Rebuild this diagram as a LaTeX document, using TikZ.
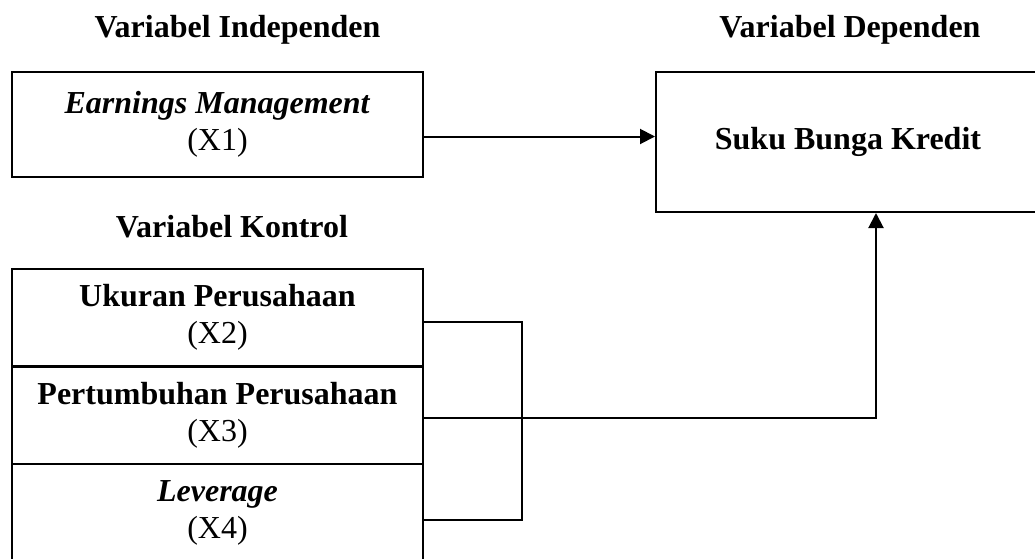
\documentclass[tikz,border=0pt]{standalone}
\usepackage{fontspec}
\setmainfont{Liberation Serif}
\usetikzlibrary{arrows.meta}

\begin{document}
\begin{tikzpicture}[x=0.5pt,y=-0.5pt,line width=1pt,
  every node/.append style={font=\fontsize{16}{18.5}\selectfont},
  box/.style={draw,align=center,inner sep=0pt,minimum width=205.5pt,minimum height=49pt},
  head/.style={anchor=base,font=\fontsize{16}{18.5}\selectfont\bfseries},
  arr/.style={-{Triangle[length=7.5pt,width=7.5pt]}}]
\useasboundingbox (0,0) rectangle (1035,558);

\node [head] (indep) at (237.5,37) {Variabel Independen};
\node [head] (depen) at (850,37) {Variabel Dependen};
\node [head] (kontrol) at (232,237) {Variabel Kontrol};

\node [box,minimum height=52.5pt] (x1) at (217.5,124.5) {\textbf{\textit{Earnings Management}}\\(X1)};
\node [box,minimum width=192pt,minimum height=70pt] (skb) at (848,142) {\textbf{Suku Bunga Kredit}};

\node [box] (x2) at (217.5,317.5) {\textbf{Ukuran Perusahaan}\\(X2)};
\node [box] (x3) at (217.5,415) {\textbf{Pertumbuhan Perusahaan}\\(X3)};
\node [box] (x4) at (217.5,513) {\textbf{\textit{Leverage}}\\(X4)};

\coordinate (x1out) at ([yshift=-6pt]x1.east);
\coordinate (joint) at (522,418);

\draw [arr] (x1out) -- (x1out -| skb.west);
\draw ([yshift=-2.25pt]x2.east) -| (joint);
\draw ([yshift=-1.5pt]x3.east) -- (joint);
\draw ([yshift=-3.5pt]x4.east) -| (joint);
\draw [arr] (joint) -| ([xshift=14pt]skb.south);
\end{tikzpicture}
\end{document}
